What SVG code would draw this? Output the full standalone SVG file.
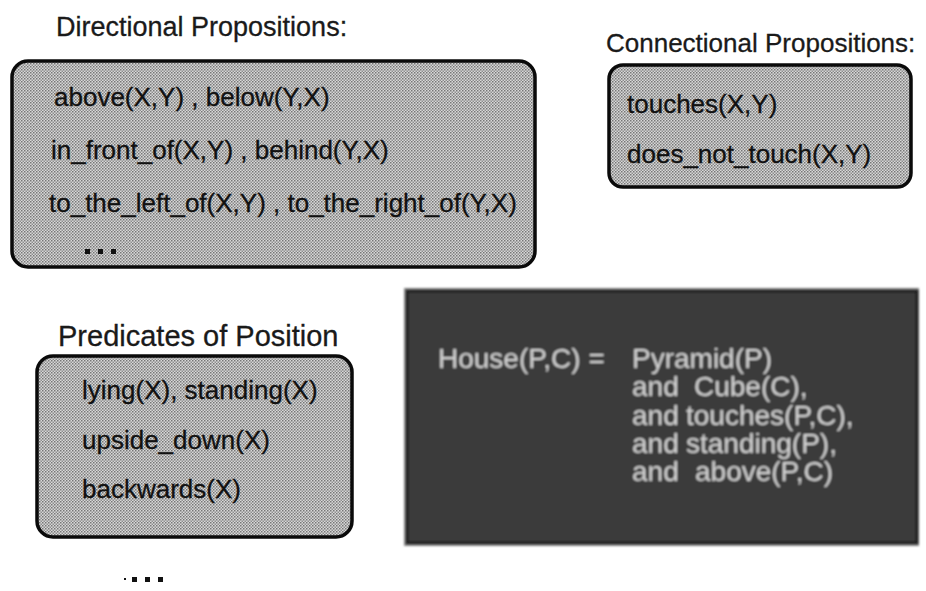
<svg xmlns="http://www.w3.org/2000/svg" width="926" height="591" viewBox="0 0 926 591">
  <defs>
    <!-- halftone screen used for the light boxes -->
    <pattern id="screen" width="3" height="3" patternUnits="userSpaceOnUse">
      <rect width="3" height="3" fill="#d8d8d8"/>
      <rect x="0" y="0" width="1.5" height="1.5" fill="#767676"/>
      <rect x="1.5" y="1.5" width="1.5" height="1.5" fill="#8e8e8e"/>
    </pattern>
    <filter id="soft" x="-5%" y="-5%" width="110%" height="110%">
      <feGaussianBlur stdDeviation="1.1"/>
    </filter>
  </defs>
  <style>
    .title { font-family: "Liberation Sans", Arial, sans-serif; fill: #1a1a1a; stroke: #1a1a1a; stroke-width: 0.3; }
    .body  { font-family: "Liberation Sans", Arial, sans-serif; font-size: 26px; fill: #111; stroke: #111; stroke-width: 0.3; }
    .box   { fill: url(#screen); stroke: #0a0a0a; stroke-width: 3.5; }
    .dot   { fill: #111; }
    .slide { font-family: "Liberation Sans", Arial, sans-serif; font-size: 28px; fill: #d4d4d4; }
  </style>

  <rect width="926" height="591" fill="#ffffff"/>

  <!-- directional propositions -->
  <g id="directional">
    <text class="title" x="56" y="36" font-size="27">Directional Propositions:</text>
    <rect class="box" x="12" y="61" width="523" height="206" rx="16"/>
    <text class="body" x="54" y="106">above(X,Y) , below(Y,X)</text>
    <text class="body" x="51" y="159">in_front_of(X,Y) , behind(Y,X)</text>
    <text class="body" x="49" y="212">to_the_left_of(X,Y) , to_the_right_of(Y,X)</text>
    <rect class="dot" x="85" y="249" width="5" height="5"/>
    <rect class="dot" x="98" y="249" width="5" height="5"/>
    <rect class="dot" x="111" y="249" width="5" height="5"/>
  </g>

  <!-- connectional propositions -->
  <g id="connectional">
    <text class="title" x="606" y="52" font-size="26">Connectional Propositions:</text>
    <rect class="box" x="609" y="65" width="302" height="122" rx="14"/>
    <text class="body" x="627" y="113">touches(X,Y)</text>
    <text class="body" x="627" y="163">does_not_touch(X,Y)</text>
  </g>

  <!-- predicates of position -->
  <g id="position">
    <text class="title" x="58" y="346" font-size="29">Predicates of Position</text>
    <rect class="box" x="37" y="356" width="315" height="181" rx="16"/>
    <text class="body" x="82" y="399">lying(X), standing(X)</text>
    <text class="body" x="82" y="449">upside_down(X)</text>
    <text class="body" x="82" y="498">backwards(X)</text>
  </g>

  <g id="more">
    <rect class="dot" x="124" y="578" width="2" height="2"/>
    <rect class="dot" x="132" y="577" width="5" height="5"/>
    <rect class="dot" x="145" y="577" width="5" height="5"/>
    <rect class="dot" x="158" y="577" width="5" height="5"/>
  </g>

  <!-- definition of a house, shown on a dark slide -->
  <g id="house" filter="url(#soft)">
    <rect x="404" y="288" width="515" height="258" fill="#8a8a8a"/>
    <rect x="407" y="291" width="510" height="252" fill="#3b3b3b" stroke="#1c1c1c" stroke-width="3"/>
    <text class="slide" x="438" y="368">House(P,C) =</text>
    <text class="slide" x="632" y="368">Pyramid(P)</text>
    <text class="slide" x="632" y="396">and</text>
    <text class="slide" x="694" y="396">Cube(C),</text>
    <text class="slide" x="632" y="425">and</text>
    <text class="slide" x="686" y="425">touches(P,C),</text>
    <text class="slide" x="632" y="453">and</text>
    <text class="slide" x="686" y="453">standing(P),</text>
    <text class="slide" x="632" y="481">and</text>
    <text class="slide" x="695" y="481">above(P,C)</text>
  </g>
</svg>
